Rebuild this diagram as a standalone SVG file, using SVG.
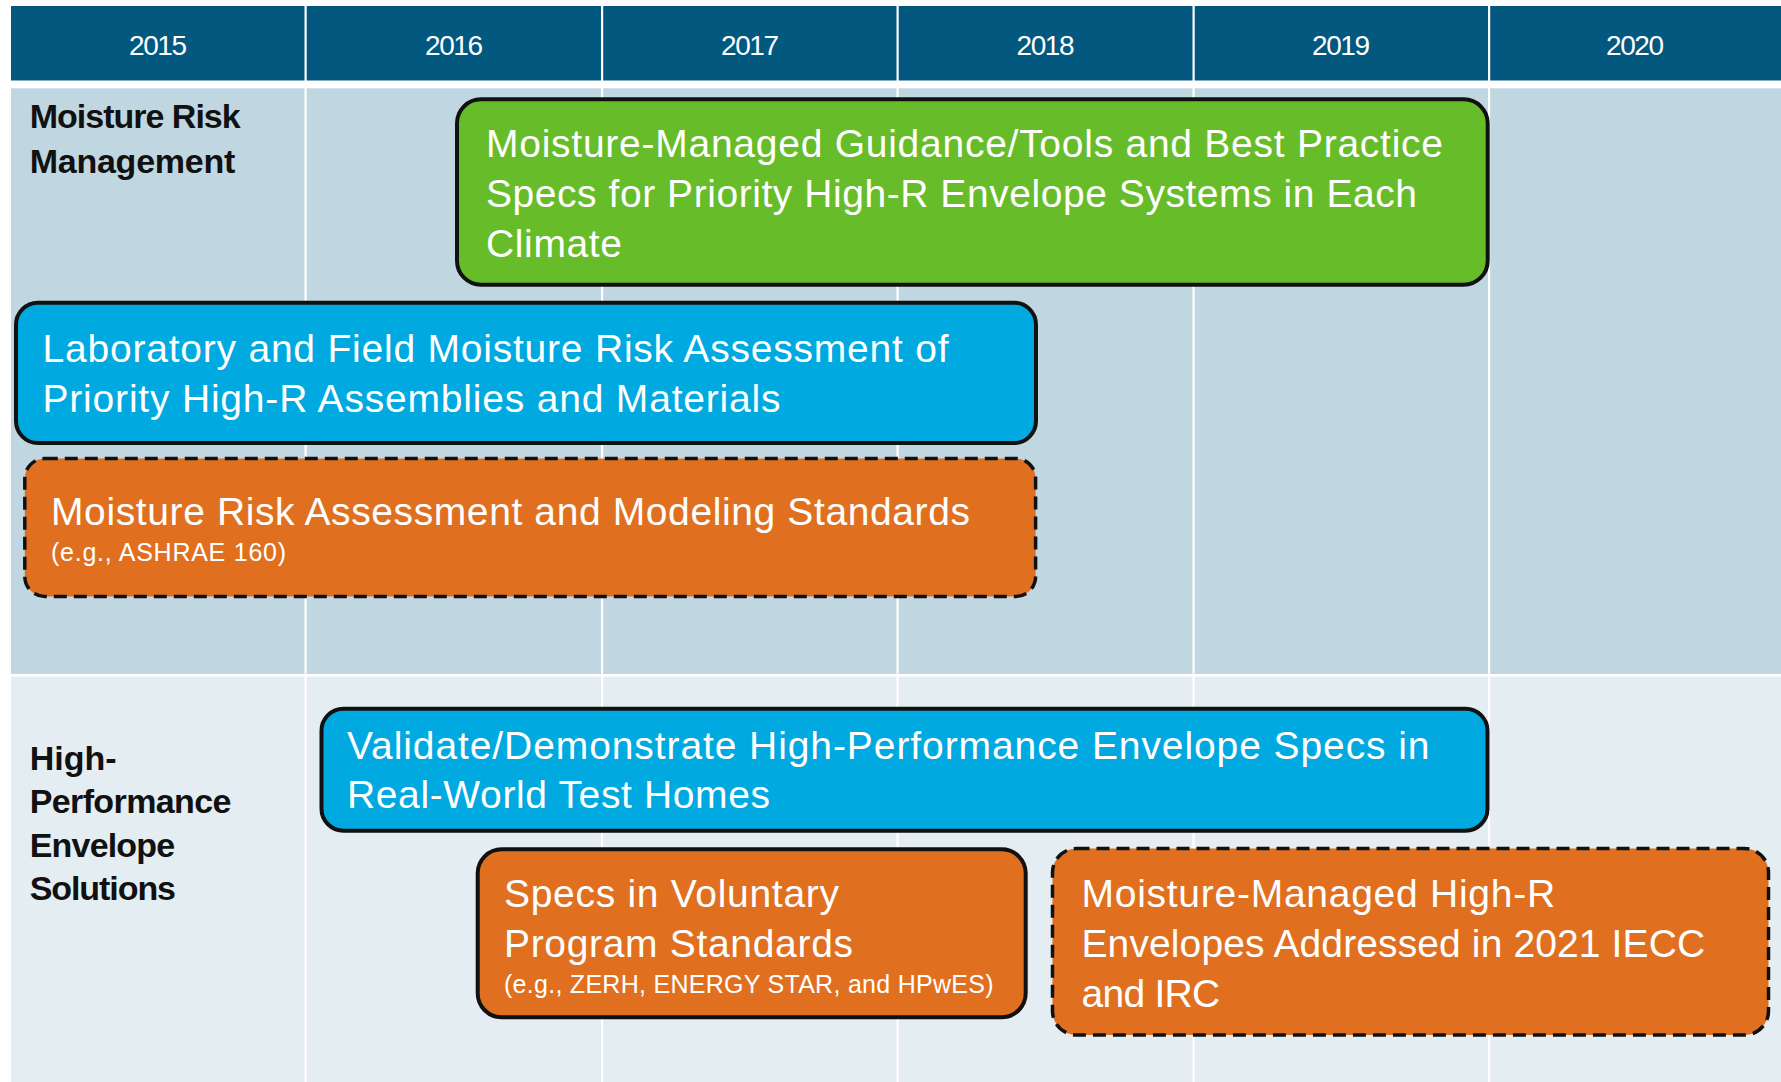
<svg xmlns="http://www.w3.org/2000/svg" width="1781" height="1082" viewBox="0 0 1781 1082">
<style>
  .hdr { fill: #02587f; }
  .row1 { fill: #c0d6e0; }
  .row2 { fill: #e4edf1; }
  .div { fill: #ffffff; }
  .year { font-family: "Liberation Sans", Arial, sans-serif; font-size: 28px; fill: #ffffff; text-anchor: middle; }
  .lbl { font-family: "Liberation Sans", Arial, sans-serif; font-size: 34px; font-weight: bold; fill: #111111; }
  .box { stroke: #111111; stroke-width: 4; }
  .dash { stroke: #111111; stroke-width: 3.5; stroke-dasharray: 13 7; }
  .green { fill: #67bc29; }
  .blue { fill: #00a9df; }
  .orange { fill: #e07020; }
  .t { font-family: "Liberation Sans", Arial, sans-serif; font-size: 39px; fill: #ffffff; }
  .s { font-family: "Liberation Sans", Arial, sans-serif; font-size: 25px; fill: #ffffff; }
</style>
<rect x="0" y="0" width="1781" height="1082" fill="#ffffff"/>
<g id="grid">
  <rect class="hdr" x="11" y="6" width="1770" height="74.5"/>
  <rect class="row1" x="11" y="88.3" width="1770" height="585.7"/>
  <rect class="row2" x="11" y="676.7" width="1770" height="405.3"/>
  <rect class="div" x="304.5" y="6" width="2.2" height="1076"/>
  <rect class="div" x="601" y="6" width="2.2" height="1076"/>
  <rect class="div" x="896.5" y="6" width="2.2" height="1076"/>
  <rect class="div" x="1192.5" y="6" width="2.2" height="1076"/>
  <rect class="div" x="1488" y="6" width="2.2" height="1076"/>
</g>
<g id="years">
  <text class="year" x="158" y="55" textLength="58">2015</text>
  <text class="year" x="454" y="55" textLength="58">2016</text>
  <text class="year" x="750" y="55" textLength="58">2017</text>
  <text class="year" x="1045.5" y="55" textLength="58">2018</text>
  <text class="year" x="1341" y="55" textLength="58">2019</text>
  <text class="year" x="1635" y="55" textLength="58">2020</text>
</g>
<g id="label-moisture">
  <text class="lbl" x="29.7" y="128.3" textLength="211">Moisture Risk</text>
  <text class="lbl" x="29.7" y="172.7" textLength="205.6">Management</text>
</g>
<g id="label-hpes">
  <text class="lbl" x="29.7" y="770" textLength="87">High-</text>
  <text class="lbl" x="29.7" y="813.3" textLength="201.7">Performance</text>
  <text class="lbl" x="29.7" y="856.7" textLength="145.5">Envelope</text>
  <text class="lbl" x="29.7" y="900" textLength="146.3">Solutions</text>
</g>
<g id="connectors"></g>
<g id="node-guidance">
  <rect class="box green" x="457" y="99.3" width="1030.7" height="185.4" rx="24"/>
  <text class="t" x="486" y="156.7" textLength="957">Moisture-Managed Guidance/Tools and Best Practice</text>
  <text class="t" x="486" y="206.7" textLength="931">Specs for Priority High-R Envelope Systems in Each</text>
  <text class="t" x="486" y="256.7" textLength="136">Climate</text>
</g>
<g id="node-lab">
  <rect class="box blue" x="16" y="302.7" width="1020" height="140.3" rx="22"/>
  <text class="t" x="42.5" y="361.7" textLength="906">Laboratory and Field Moisture Risk Assessment of</text>
  <text class="t" x="42.5" y="411.7" textLength="738">Priority High-R Assemblies and Materials</text>
</g>
<g id="node-standards">
  <rect class="dash orange" x="24.8" y="458.5" width="1010.8" height="138" rx="20"/>
  <text class="t" x="51" y="524.5" textLength="919">Moisture Risk Assessment and Modeling Standards</text>
  <text class="s" x="51" y="561" textLength="235">(e.g., ASHRAE 160)</text>
</g>
<g id="node-validate">
  <rect class="box blue" x="321.5" y="708.7" width="1166" height="122" rx="22"/>
  <text class="t" x="347" y="759" textLength="1082.5">Validate/Demonstrate High-Performance Envelope Specs in</text>
  <text class="t" x="347" y="808.3" textLength="423">Real-World Test Homes</text>
</g>
<g id="node-voluntary">
  <rect class="box orange" x="477.7" y="849.3" width="548" height="168" rx="24"/>
  <text class="t" x="504" y="906.7" textLength="335">Specs in Voluntary</text>
  <text class="t" x="504" y="956.7" textLength="349">Program Standards</text>
  <text class="s" x="504" y="993.3" textLength="489.5">(e.g., ZERH, ENERGY STAR, and HPwES)</text>
</g>
<g id="node-iecc">
  <rect class="dash orange" x="1052.5" y="848.5" width="716" height="186.5" rx="24"/>
  <text class="t" x="1081.5" y="906.7" textLength="473.6">Moisture-Managed High-R</text>
  <text class="t" x="1081.5" y="956.7" textLength="623.6">Envelopes Addressed in 2021 IECC</text>
  <text class="t" x="1081.5" y="1006.7" textLength="138.6">and IRC</text>
</g>
</svg>
